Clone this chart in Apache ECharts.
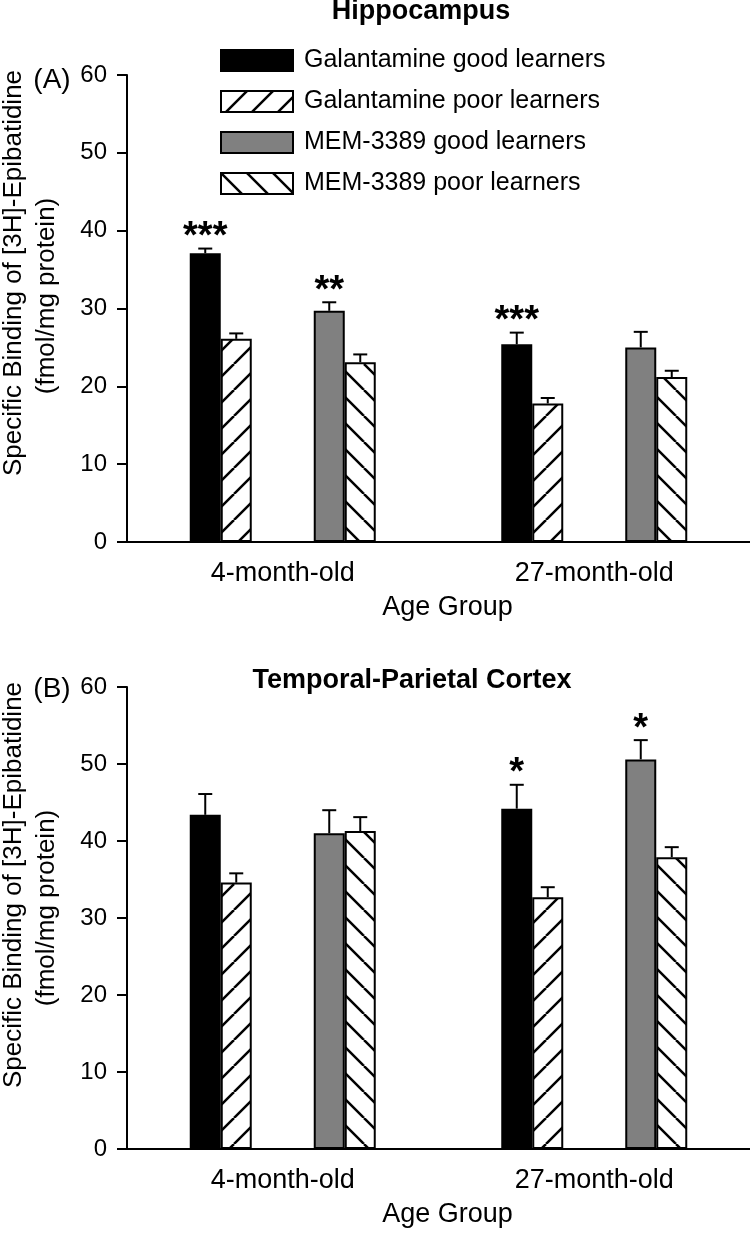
<!DOCTYPE html>
<html><head><meta charset="utf-8">
<script src="https://cdn.jsdelivr.net/npm/echarts@6/dist/echarts.min.js"></script>
<style>html,body{margin:0;padding:0;background:#fff}#chart{width:750px;height:1233px}</style>
</head><body><div id="chart"></div>
<script>
// ---------- data ----------
const categories = ['4-month-old', '27-month-old'];
const seriesNames = ['Galantamine good learners', 'Galantamine poor learners', 'MEM-3389 good learners', 'MEM-3389 poor learners'];
const yMin = 0, yMax = 60, yStep = 10;

// (A) Hippocampus
const hippoGalGood = [37.1, 25.4];
const hippoGalGoodErr = [0.6, 1.5];
const hippoGalPoor = [26.1, 17.8];
const hippoGalPoorErr = [0.7, 0.7];
const hippoMemGood = [29.7, 25.0];
const hippoMemGoodErr = [1.1, 2.0];
const hippoMemPoor = [23.1, 21.2];
const hippoMemPoorErr = [1.0, 0.8];
const hippoGalGoodSig = ['***', '***'];
const hippoGalPoorSig = ['', ''];
const hippoMemGoodSig = ['**', ''];
const hippoMemPoorSig = ['', ''];

// (B) Temporal-Parietal Cortex
const cortexGalGood = [43.4, 44.2];
const cortexGalGoodErr = [2.7, 3.1];
const cortexGalPoor = [34.6, 32.7];
const cortexGalPoorErr = [1.2, 1.3];
const cortexMemGood = [41.0, 50.6];
const cortexMemGoodErr = [3.0, 2.5];
const cortexMemPoor = [41.3, 37.9];
const cortexMemPoorErr = [1.8, 1.3];
const cortexGalGoodSig = ['', '*'];
const cortexGalPoorSig = ['', ''];
const cortexMemGoodSig = ['', '*'];
const cortexMemPoorSig = ['', ''];

// ---------- styling ----------
const FONT = '"Liberation Sans", Arial, Helvetica, sans-serif';
const BAR_W = 31;
const SLOT = [-2.5, -1.5, 1.5, 2.5]; // bar slot offsets (two empty slots in the middle)

function hatch(dir) {
  const s = 26;
  const c = document.createElement('canvas');
  c.width = s; c.height = s;
  const g = c.getContext('2d');
  g.fillStyle = '#fff'; g.fillRect(0, 0, s, s);
  g.strokeStyle = '#000'; g.lineWidth = 2.5;
  for (const k of [-1, 0, 1]) {
    g.beginPath();
    if (dir > 0) { g.moveTo(k * s, s); g.lineTo(k * s + s, 0); }
    else { g.moveTo(k * s, 0); g.lineTo(k * s + s, s); }
    g.stroke();
  }
  return c;
}
const fills = [
  '#000000',
  { image: hatch(1), repeat: 'repeat' },
  '#808080',
  { image: hatch(-1), repeat: 'repeat' }
];

function barSeries(i, data, gi) {
  return {
    type: 'bar', name: seriesNames[i], data: data,
    xAxisIndex: gi, yAxisIndex: gi,
    barWidth: BAR_W, barGap: '0%',
    itemStyle: { color: fills[i], borderColor: '#000', borderWidth: 2 },
    emphasis: { disabled: true }, z: 2
  };
}
function gapSeries(name, gi) {
  return { type: 'bar', name: name, data: ['-', '-'], xAxisIndex: gi, yAxisIndex: gi,
    barWidth: BAR_W, barGap: '0%', silent: true };
}
function errSeries(means, errs, sigs, gi) {
  const rows = [];
  for (let s = 0; s < 4; s++) {
    for (let c = 0; c < categories.length; c++) {
      rows.push({ cat: c, mean: means[s][c], err: errs[s][c], slot: s, sig: sigs[s][c] });
    }
  }
  return {
    type: 'custom', xAxisIndex: gi, yAxisIndex: gi, z: 5, silent: true,
    data: rows.map(r => [r.cat, r.mean + r.err]),
    renderItem: function (params, api) {
      const r = rows[params.dataIndex];
      const base = api.coord([r.cat, r.mean]);
      const top = api.coord([r.cat, r.mean + r.err]);
      const x = base[0] + SLOT[r.slot] * BAR_W;
      const children = [
        { type: 'line', shape: { x1: x, y1: base[1], x2: x, y2: top[1] }, style: { stroke: '#000', lineWidth: 2 } },
        { type: 'line', shape: { x1: x - 7, y1: top[1], x2: x + 7, y2: top[1] }, style: { stroke: '#000', lineWidth: 2 } }
      ];
      if (r.sig) {
        children.push({ type: 'text', style: { text: r.sig, x: x, y: top[1] - 11, align: 'center', verticalAlign: 'middle',
          font: 'bold 38px ' + FONT, fill: '#000' } });
      }
      return { type: 'group', children: children };
    }
  };
}

function xAxis(gi) {
  return {
    type: 'category', gridIndex: gi, data: categories,
    axisLine: { lineStyle: { color: '#000', width: 2 } },
    axisTick: { alignWithLabel: true, length: 8, lineStyle: { color: '#000', width: 2 } },
    axisLabel: { color: '#000', fontSize: 27, fontFamily: FONT, margin: 18 },
    name: 'Age Group', nameLocation: 'middle', nameGap: 52,
    nameTextStyle: { color: '#000', fontSize: 27, fontFamily: FONT, padding: [0, 0, 0, 18] }
  };
}
function yAxis(gi) {
  return {
    type: 'value', gridIndex: gi, min: yMin, max: yMax, interval: yStep,
    axisLine: { show: true, lineStyle: { color: '#000', width: 2 } },
    axisTick: { show: true, length: 10, lineStyle: { color: '#000', width: 2 } },
    axisLabel: { color: '#000', fontSize: 24, fontFamily: FONT, margin: 20 },
    splitLine: { show: false }
  };
}

const chart = echarts.init(document.getElementById('chart'), null, { renderer: 'canvas' });
const ytitle = 'Specific Binding of [3H]-Epibatidine';
const yunit = '(fmol/mg protein)';
function ttext(t, x, y, rot, size, weight) {
  return { type: 'text', x: x, y: y, rotation: rot, silent: true,
    style: { text: t, align: 'center', verticalAlign: 'middle', fill: '#000',
      font: (weight || 'normal') + ' ' + size + 'px ' + FONT } };
}

chart.setOption({
  animation: false,
  backgroundColor: '#fff',
  title: [
    { text: 'Hippocampus', left: 421, top: -2, padding: 0, textAlign: 'center',
      textStyle: { fontSize: 27, fontWeight: 'bold', color: '#000', fontFamily: FONT } },
    { text: 'Temporal-Parietal Cortex', left: 412, top: 667, padding: 0, textAlign: 'center',
      textStyle: { fontSize: 27, fontWeight: 'bold', color: '#000', fontFamily: FONT } }
  ],
  legend: {
    data: seriesNames, orient: 'vertical', left: 215, top: 43,
    itemWidth: 72, itemHeight: 21, itemGap: 16, icon: 'rect', selectedMode: false,
    textStyle: { fontSize: 25, color: '#000', fontFamily: FONT, padding: [0, 0, 0, 6] }
  },
  grid: [
    { left: 127, right: 0, top: 75, height: 467 },
    { left: 127, right: 0, top: 687, height: 462 }
  ],
  xAxis: [xAxis(0), xAxis(1)],
  yAxis: [yAxis(0), yAxis(1)],
  graphic: [
    ttext(ytitle, 14, 273, Math.PI / 2, 26),
    ttext(yunit, 47, 296, Math.PI / 2, 26),
    ttext(ytitle, 14, 885, Math.PI / 2, 26),
    ttext(yunit, 47, 908, Math.PI / 2, 26),
    ttext('(A)', 52, 80, 0, 28),
    ttext('(B)', 52, 689, 0, 28)
  ],
  series: [
    barSeries(0, hippoGalGood, 0),
    barSeries(1, hippoGalPoor, 0),
    gapSeries('gapA1', 0),
    gapSeries('gapA2', 0),
    barSeries(2, hippoMemGood, 0),
    barSeries(3, hippoMemPoor, 0),
    errSeries([hippoGalGood, hippoGalPoor, hippoMemGood, hippoMemPoor],
              [hippoGalGoodErr, hippoGalPoorErr, hippoMemGoodErr, hippoMemPoorErr],
              [hippoGalGoodSig, hippoGalPoorSig, hippoMemGoodSig, hippoMemPoorSig], 0),
    barSeries(0, cortexGalGood, 1),
    barSeries(1, cortexGalPoor, 1),
    gapSeries('gapB1', 1),
    gapSeries('gapB2', 1),
    barSeries(2, cortexMemGood, 1),
    barSeries(3, cortexMemPoor, 1),
    errSeries([cortexGalGood, cortexGalPoor, cortexMemGood, cortexMemPoor],
              [cortexGalGoodErr, cortexGalPoorErr, cortexMemGoodErr, cortexMemPoorErr],
              [cortexGalGoodSig, cortexGalPoorSig, cortexMemGoodSig, cortexMemPoorSig], 1)
  ]
});
</script>
</body></html>
